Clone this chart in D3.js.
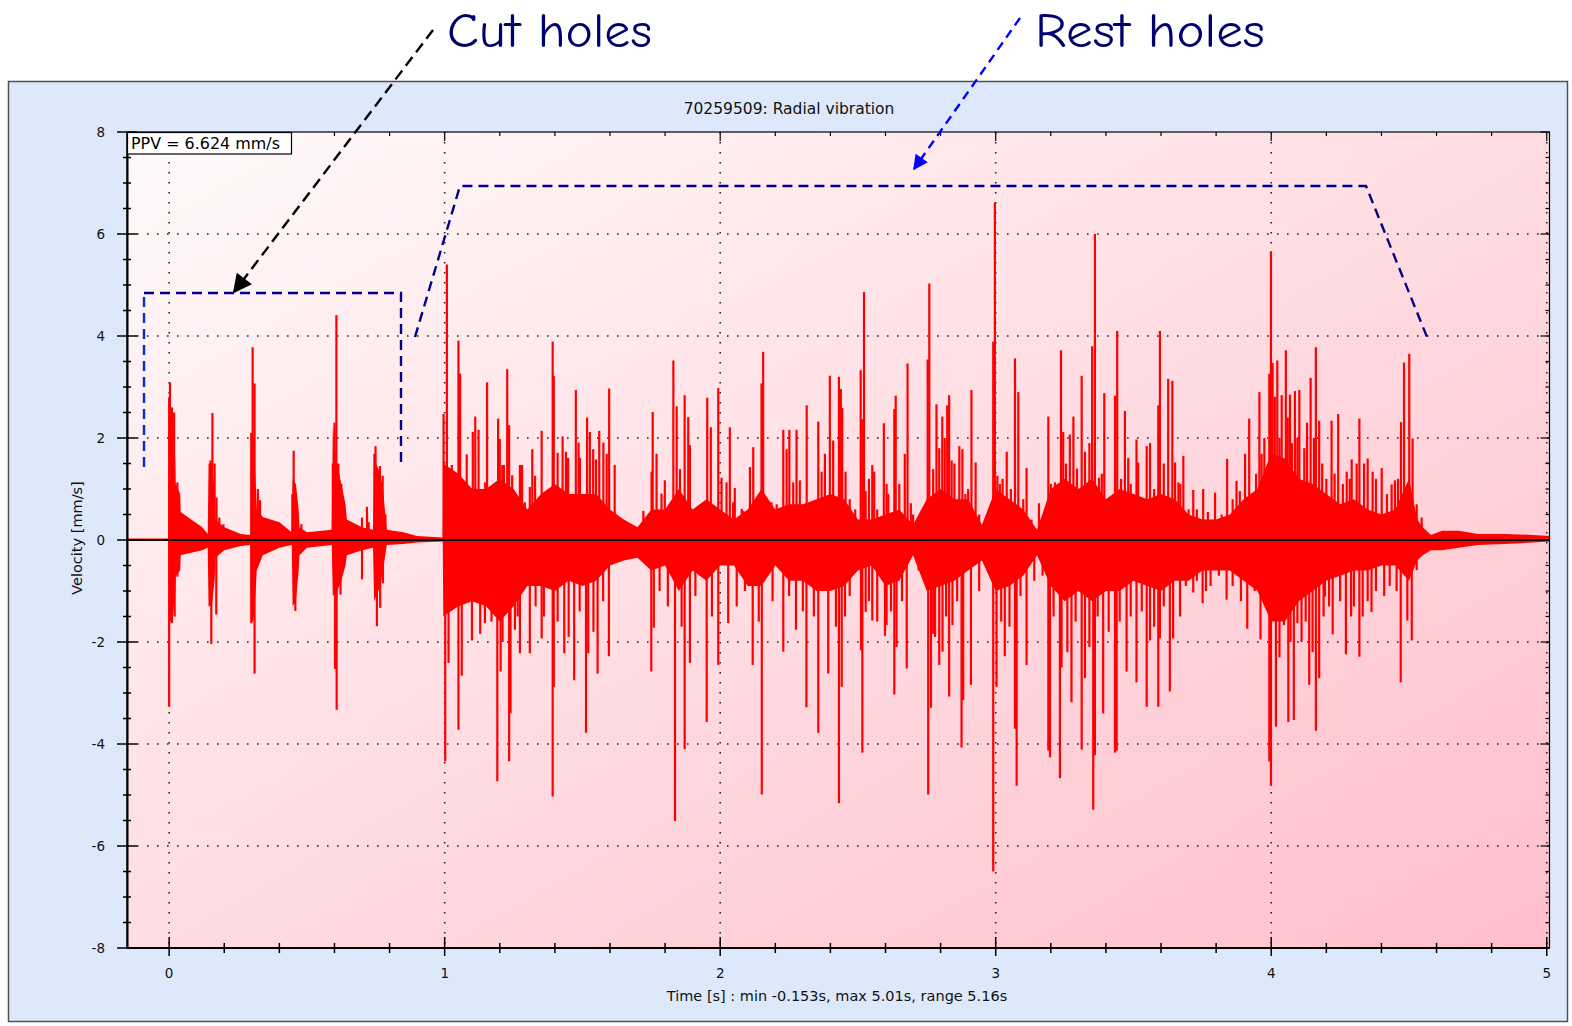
<!DOCTYPE html>
<html><head><meta charset="utf-8">
<script src="https://cdn.jsdelivr.net/npm/d3@7"></script>
<style>html,body{margin:0;padding:0;background:#fff;}svg{display:block;}</style>
</head><body>
<svg id="c" width="1572" height="1026"></svg>
<script>
// ---------- DATA ----------
const xTickLabels = ["0","1","2","3","4","5"];
const yTickLabels = ["-8","-6","-4","-2","0","2","4","6","8"];
const chartTitle = "70259509: Radial vibration";
const xTitle = "Time [s] : min -0.153s, max 5.01s, range 5.16s";
const yTitle = "Velocity [mm/s]";
const ppvText = "PPV = 6.624 mm/s";
const annotations = ["Cut holes", "Rest holes"];

// body envelope of the waveform (time s, upper mm/s, lower mm/s)
const envT  = [-0.153,-0.002,0.000,0.012,0.022,0.024,0.040,0.042,0.080,0.120,0.140,0.143,0.155,0.165,0.168,0.200,0.260,0.295,0.297,0.306,0.315,0.318,0.340,0.400,0.445,0.448,0.460,0.470,0.473,0.500,0.590,0.594,0.610,0.625,0.640,0.645,0.700,0.740,0.744,0.766,0.776,0.790,0.850,0.900,0.993,
  0.995,1.05,1.10,1.15,1.20,1.25,1.30,1.35,1.40,1.45,1.50,1.55,1.60,1.65,1.70,1.75,1.80,1.85,1.90,1.95,2.00,2.05,2.10,2.15,2.20,2.25,2.30,2.35,2.40,2.45,2.50,2.55,2.60,2.65,2.70,2.75,2.80,2.85,2.90,2.95,3.00,3.05,3.10,3.15,3.20,3.25,3.30,3.35,3.40,3.45,3.50,3.55,3.60,3.65,3.70,3.75,3.80,3.85,3.90,3.95,4.00,4.05,4.10,4.15,4.20,4.25,4.30,4.35,4.40,4.45,4.50,4.53,4.55,4.58,4.62,4.68,4.75,4.85,4.95,5.01];
const envHi = [0.03,0.03,2.5,2.4,1.6,1.1,0.9,0.55,0.4,0.25,0.12,1.5,1.5,0.9,0.4,0.25,0.12,0.1,2.1,2.0,1.0,0.6,0.45,0.35,0.15,1.2,1.1,0.6,0.25,0.15,0.2,2.2,1.5,1.1,0.7,0.4,0.25,0.2,1.6,1.3,1.0,0.2,0.15,0.08,0.05,
  1.5,1.3,1.0,1.0,1.2,1.0,0.6,0.9,1.1,0.9,0.9,0.9,0.6,0.4,0.25,0.6,0.6,1.0,0.6,0.8,0.6,0.4,0.6,1.0,0.6,0.7,0.7,0.8,0.9,0.8,0.4,0.4,0.5,0.6,0.3,0.8,1.0,0.8,0.8,0.3,1.0,0.8,0.6,0.2,1.0,1.2,1.0,1.2,0.8,1.0,0.9,0.8,0.9,0.8,0.5,0.4,0.4,0.5,0.8,1.0,1.7,1.6,1.2,1.1,0.9,0.7,0.8,0.6,0.5,0.6,1.2,0.4,0.25,0.1,0.18,0.18,0.12,0.12,0.1,0.08];
const envLo = [-0.005,-0.005,-1.6,-1.6,-1.0,-0.7,-0.6,-0.3,-0.25,-0.2,-0.15,-1.3,-1.3,-0.8,-0.35,-0.2,-0.12,-0.1,-1.6,-1.6,-0.9,-0.6,-0.3,-0.15,-0.1,-1.3,-1.2,-0.6,-0.3,-0.15,-0.1,-1.1,-1.0,-0.8,-0.5,-0.3,-0.2,-0.15,-1.2,-0.9,-0.6,-0.1,-0.08,-0.05,-0.03,
  -1.5,-1.3,-1.2,-1.3,-1.6,-1.3,-0.9,-0.9,-1.0,-0.8,-0.9,-0.8,-0.5,-0.4,-0.35,-0.6,-0.5,-1.0,-0.6,-0.8,-0.5,-0.5,-0.9,-0.9,-0.5,-0.8,-0.8,-1.0,-1.0,-0.9,-0.6,-0.5,-0.9,-0.8,-0.3,-1.0,-0.9,-0.8,-0.6,-0.4,-1.0,-0.9,-0.7,-0.3,-0.9,-1.2,-1.0,-1.2,-1.0,-1.0,-0.8,-0.9,-1.0,-0.8,-0.8,-0.6,-0.6,-0.6,-0.8,-1.0,-1.6,-1.6,-1.2,-1.0,-0.8,-0.7,-0.6,-0.6,-0.5,-0.5,-0.8,-0.4,-0.3,-0.2,-0.2,-0.15,-0.1,-0.08,-0.05,-0.03];

// positive peaks (time s, mm/s)
const posT = [0.000,0.003,0.010,0.018,0.030,0.035,0.150,0.157,0.165,0.172,0.182,0.197,0.298,0.303,0.310,0.322,0.330,0.447,0.452,0.460,0.480,0.594,0.600,0.607,0.614,0.625,0.700,0.718,0.724,0.745,0.749,0.755,0.765,0.775,0.785,
  0.996,1.008,1.026,1.050,1.056,1.080,1.102,1.111,1.123,1.134,1.147,1.154,1.176,1.194,1.200,1.209,1.215,1.227,1.234,1.245,1.261,1.273,1.281,1.291,1.309,1.318,1.328,1.352,1.370,1.392,1.396,1.410,1.428,1.440,1.448,1.476,1.486,1.491,1.517,1.527,1.539,1.549,1.561,1.576,1.588,1.597,1.617,1.721,1.751,1.755,1.769,1.787,1.799,1.830,1.842,1.854,1.871,1.884,1.890,1.926,1.953,1.966,1.993,2.005,2.023,2.035,2.047,2.053,2.078,2.084,2.108,2.120,2.132,2.150,2.156,2.186,2.205,2.229,2.241,2.251,2.265,2.277,2.289,2.314,2.332,2.356,2.368,2.380,2.398,2.410,2.431,
  2.438,2.443,2.455,2.470,2.490,2.510,2.516,2.522,2.528,2.540,2.552,2.559,2.570,2.594,2.604,2.610,2.632,2.637,2.650,2.670,2.680,2.692,2.700,2.720,2.753,2.759,2.773,2.785,2.795,2.806,2.815,2.824,2.831,2.840,2.850,2.868,2.879,2.890,2.900,2.912,2.927,2.940,2.960,2.991,2.997,3.006,3.015,3.025,3.040,3.055,3.070,3.082,3.100,3.112,3.130,3.157,3.165,3.191,3.200,3.215,3.225,3.237,3.245,3.255,3.269,3.282,3.295,3.312,3.324,3.340,3.350,3.360,3.375,3.385,3.394,3.410,3.433,3.441,3.455,3.469,3.481,3.490,3.500,3.511,3.517,3.530,3.548,3.560,3.575,3.590,3.596,3.610,3.626,3.641,3.651,3.663,3.670,3.681,3.700,3.717,
  3.730,3.753,3.770,3.796,3.820,3.840,3.860,3.874,3.886,3.905,3.920,3.929,3.945,3.957,3.965,3.975,3.993,3.999,4.005,4.013,4.022,4.030,4.038,4.053,4.060,4.068,4.075,4.086,4.095,4.102,4.120,4.130,4.143,4.155,4.162,4.174,4.185,4.200,4.219,4.230,4.243,4.260,4.274,4.285,4.292,4.310,4.320,4.337,4.350,4.368,4.380,4.401,4.420,4.437,4.449,4.460,4.471,4.482,4.501,4.513,4.528,4.546];
const posV = [2.8,3.09,2.6,2.5,1.13,0.9,1.56,2.49,1.5,0.83,0.44,0.31,2.1,3.78,3.07,1.0,0.78,0.9,1.75,0.7,0.31,1.5,2.3,4.41,1.5,1.1,0.44,0.65,0.35,1.69,1.84,1.0,1.45,1.26,0.5,
  2.47,5.40,1.47,3.91,3.26,1.68,2.12,2.42,2.16,0.91,1.13,3.09,0.95,2.38,1.98,1.47,1.47,3.35,2.25,1.27,0.74,1.47,1.47,0.74,1.04,1.78,1.26,2.14,0.83,3.89,3.22,1.71,2.03,1.73,1.61,2.94,1.91,1.61,2.40,2.12,1.78,1.58,2.14,1.91,1.69,2.97,1.47,0.57,1.34,2.51,1.69,0.91,1.17,3.52,2.62,1.39,2.84,2.41,1.86,0.57,2.79,2.21,2.98,1.22,1.13,2.21,0.74,1.02,0.61,0.57,1.43,1.82,0.74,3.07,3.69,0.74,0.70,2.16,1.78,2.16,1.13,2.16,1.17,2.64,0.70,2.32,1.34,1.69,3.22,1.95,3.20,
  2.96,2.59,1.34,0.8,0.6,3.33,2.37,4.86,0.96,1.2,1.47,1.34,0.6,2.29,1.10,0.9,2.57,2.83,1.1,1.69,3.46,0.72,0.5,0.3,3.54,5.03,1.39,2.66,1.8,2.42,2.0,2.64,2.84,1.56,1.5,1.84,1.78,0.9,1.0,2.94,1.52,0.5,0.3,3.89,6.62,1.26,1.1,1.2,1.73,1.0,3.56,2.90,0.8,1.41,0.4,0.72,0.4,2.42,1.1,1.13,1.1,3.72,2.12,1.5,2.07,2.42,1.4,3.22,1.73,1.9,3.80,6.00,1.22,1.3,2.88,0.5,2.83,4.10,1.2,2.53,1.61,1.1,0.9,1.97,1.52,0.8,1.84,1.90,1.0,2.64,4.10,1.5,3.16,3.12,1.52,1.13,1.1,1.65,0.6,0.98,
  0.6,1.00,0.55,0.93,0.5,1.59,0.8,1.16,0.96,1.69,2.38,0.91,1.3,2.90,1.69,2.0,3.26,5.66,3.47,2.81,3.52,2.0,2.84,3.72,2.4,2.85,1.9,2.92,2.0,2.94,1.8,2.3,3.18,2.0,3.78,2.34,1.5,1.2,2.34,1.3,2.47,1.1,1.34,1.2,1.58,1.5,2.38,1.50,1.6,1.34,1.2,1.41,0.9,1.09,1.17,1.2,2.31,3.48,3.65,1.99,0.70,0.44];

// negative peaks (time s, mm/s)
const negT = [0.000,0.010,0.020,0.030,0.153,0.171,0.298,0.310,0.458,0.602,0.608,0.622,0.700,0.754,0.766,0.776,
  1.002,1.014,1.032,1.050,1.062,1.099,1.129,1.146,1.170,1.191,1.203,1.210,1.234,1.239,1.255,1.265,1.273,1.309,1.330,1.352,1.360,1.392,1.396,1.410,1.434,1.450,1.470,1.490,1.513,1.521,1.540,1.555,1.575,1.596,1.750,1.759,1.780,1.810,1.836,1.860,1.871,1.890,1.910,1.951,1.970,1.993,2.029,2.060,2.090,2.118,2.140,2.151,2.190,2.229,2.250,2.275,2.300,2.313,2.340,2.356,2.392,2.420,2.431,
  2.441,2.453,2.470,2.511,2.516,2.528,2.540,2.552,2.570,2.598,2.604,2.620,2.632,2.640,2.660,2.677,2.720,2.755,2.765,2.773,2.780,2.795,2.807,2.820,2.831,2.843,2.860,2.876,2.882,2.910,2.940,2.991,3.003,3.020,3.033,3.050,3.070,3.076,3.090,3.112,3.140,3.170,3.191,3.197,3.210,3.233,3.239,3.260,3.275,3.290,3.312,3.324,3.340,3.354,3.360,3.370,3.390,3.410,3.433,3.439,3.450,3.475,3.490,3.511,3.530,3.548,3.560,3.575,3.590,3.596,3.610,3.632,3.644,3.669,3.690,
  3.717,3.730,3.751,3.763,3.780,3.810,3.838,3.860,3.890,3.913,3.940,3.961,3.993,3.999,4.017,4.026,4.030,4.046,4.062,4.070,4.082,4.095,4.110,4.125,4.138,4.150,4.162,4.174,4.190,4.195,4.210,4.223,4.250,4.271,4.290,4.300,4.320,4.332,4.350,4.364,4.380,4.410,4.430,4.455,4.470,4.494,4.510,4.528];
const negV = [-3.27,-1.63,-1.5,-0.72,-2.04,-1.46,-1.63,-2.62,-1.39,-2.53,-3.33,-1.07,-0.77,-1.69,-1.33,-0.85,
  -4.34,-2.41,-1.02,-3.72,-2.66,-1.97,-1.84,-1.63,-1.6,-4.73,-2.58,-2.0,-4.34,-3.40,-1.76,-1.5,-2.22,-2.22,-1.3,-1.93,-1.5,-5.03,-2.88,-1.6,-2.22,-1.9,-2.75,-1.4,-3.78,-2.22,-1.8,-2.62,-1.2,-2.28,-2.58,-1.72,-1.0,-1.3,-5.51,-1.7,-4.10,-2.41,-1.1,-3.57,-1.5,-2.45,-1.63,-1.3,-1.0,-2.45,-1.6,-4.99,-1.2,-2.19,-1.1,-1.76,-1.4,-3.28,-1.5,-3.78,-2.62,-1.7,-5.16,
  -2.88,-1.50,-1.1,-2.16,-4.17,-1.41,-1.2,-1.58,-1.6,-1.88,-1.67,-1.4,-3.03,-2.10,-1.2,-2.52,-0.6,-4.99,-3.29,-1.84,-1.9,-2.45,-2.19,-1.5,-3.07,-1.67,-1.2,-4.07,-3.14,-2.84,-1.0,-6.50,-2.88,-1.6,-2.28,-1.7,-3.70,-4.82,-1.1,-2.45,-0.8,-0.7,-4.13,-4.26,-1.5,-4.67,-2.50,-2.2,-3.18,-1.6,-4.11,-2.71,-2.1,-5.29,-4.22,-1.5,-3.40,-1.8,-4.17,-4.13,-1.6,-2.58,-1.5,-2.79,-1.4,-3.27,-1.97,-1.7,-3.27,-1.93,-1.3,-2.97,-1.93,-1.50,-0.9,
  -1.03,-0.8,-1.24,-1.00,-0.9,-0.7,-1.17,-0.9,-1.2,-1.74,-1.0,-1.95,-4.34,-4.82,-3.66,-1.37,-2.3,-1.67,-3.57,-2.0,-3.53,-1.63,-2.0,-1.6,-2.84,-2.2,-3.74,-2.71,-1.5,-1.11,-1.3,-1.85,-1.2,-2.24,-1.5,-1.3,-2.29,-1.50,-1.2,-1.41,-1.0,-1.1,-0.9,-1.0,-2.79,-1.58,-1.97,-0.59];

// ---------- DRAW ----------
const svg = d3.select("#c");
const FONT = "'DejaVu Sans', Verdana, sans-serif";
const x = d3.scaleLinear().domain([-0.153, 5.01]).range([127, 1549.5]);
const y = d3.scaleLinear().domain([-8, 8]).range([948, 132]);
const [X0, X1] = x.range(), [Y0, Y1] = [y(8), y(-8)];

const defs = svg.append("defs");
const g = defs.append("linearGradient").attr("id","bg").attr("x1",0).attr("y1",0).attr("x2",1).attr("y2",1);
g.append("stop").attr("offset","0%").attr("stop-color","#fffafa");
g.append("stop").attr("offset","100%").attr("stop-color","#ffbfcb");
defs.append("clipPath").attr("id","clip").append("rect").attr("x",X0).attr("y",Y0).attr("width",X1-X0).attr("height",Y1-Y0);
const mk = (id, col) => defs.append("marker").attr("id",id).attr("viewBox","0 0 10 10").attr("refX",9).attr("refY",5)
  .attr("markerWidth",9).attr("markerHeight",9).attr("markerUnits","userSpaceOnUse").attr("orient","auto")
  .append("path").attr("d","M0,0 L10,5 L0,10 z").attr("fill",col);
mk("ahBlack","#000"); mk("ahBlue","#0000ff");
defs.select("#ahBlack").attr("markerWidth",24).attr("markerHeight",19);
defs.select("#ahBlue").attr("markerWidth",18).attr("markerHeight",15);

// outer panel
svg.append("rect").attr("x",8.5).attr("y",81.5).attr("width",1559).attr("height",940)
  .attr("fill","#dde9fb").attr("stroke","#505050").attr("stroke-width",1.5);
// plot background
svg.append("rect").attr("x",X0).attr("y",Y0).attr("width",X1-X0).attr("height",Y1-Y0).attr("fill","url(#bg)");

// title
svg.append("text").attr("x",789).attr("y",114).attr("text-anchor","middle")
  .attr("font-family",FONT).attr("font-size",15.5).attr("fill","#111").text(chartTitle);

// grid (dotted)
const grid = svg.append("g").attr("stroke","#222").attr("stroke-width",1.6).attr("stroke-dasharray","1.6,8.4");
const xMajor = xTickLabels.map(Number), yMajor = yTickLabels.map(Number);
grid.selectAll(".gx").data(xMajor).join("line").attr("x1",d=>x(d)).attr("x2",d=>x(d)).attr("y1",Y0).attr("y2",Y1);
grid.selectAll(".gy").data(yMajor.filter(d=>d!==0 && Math.abs(d)!==8)).join("line")
  .attr("x1",X0).attr("x2",X1).attr("y1",d=>y(d)).attr("y2",d=>y(d));

// waveform
const wave = svg.append("g").attr("clip-path","url(#clip)");
const env = envT.map((t,i)=>({t, hi:envHi[i], lo:envLo[i]}));
wave.append("path").datum(env)
  .attr("d", d3.area().x(d=>x(d.t)).y0(d=>y(d.lo)).y1(d=>y(d.hi)))
  .attr("fill","#ff0000");
wave.selectAll(".ps").data(posT.map((t,i)=>({t,v:posV[i]}))).join("line")
  .attr("x1",d=>x(d.t)).attr("x2",d=>x(d.t)).attr("y1",y(0)).attr("y2",d=>y(d.v))
  .attr("stroke","#ff0000").attr("stroke-width",2.2);
wave.selectAll(".ns").data(negT.map((t,i)=>({t,v:negV[i]}))).join("line")
  .attr("x1",d=>x(d.t)).attr("x2",d=>x(d.t)).attr("y1",y(0)).attr("y2",d=>y(d.v))
  .attr("stroke","#ff0000").attr("stroke-width",2.2);
// zero line
svg.append("line").attr("x1",X0).attr("x2",X1).attr("y1",y(0)).attr("y2",y(0)).attr("stroke","#000").attr("stroke-width",2);

// frame & axes
const ax = svg.append("g").attr("stroke","#000");
ax.append("rect").attr("x",X0).attr("y",Y0).attr("width",X1-X0).attr("height",Y1-Y0).attr("fill","none").attr("stroke-width",1.2);
ax.append("line").attr("x1",X0+0.5).attr("x2",X0+0.5).attr("y1",Y0).attr("y2",Y1+1).attr("stroke-width",2);
ax.append("line").attr("x1",X0).attr("x2",X1).attr("y1",Y1).attr("y2",Y1).attr("stroke-width",2);
const xMinor = d3.range(0, 26).map(i=>i*0.2).filter(v=>Math.abs(v-Math.round(v))>1e-6);
const yMinor = d3.range(-16, 17).map(i=>i*0.5).filter(v=>Math.abs(v/2-Math.round(v/2))>1e-6);
ax.selectAll(".bM").data(xMajor).join("line").attr("x1",d=>x(d)).attr("x2",d=>x(d)).attr("y1",Y1-11).attr("y2",Y1+8).attr("stroke-width",1.5);
ax.selectAll(".bm").data(xMinor).join("line").attr("x1",d=>x(d)).attr("x2",d=>x(d)).attr("y1",Y1-5).attr("y2",Y1+5).attr("stroke-width",1.5);
ax.selectAll(".tM").data(xMajor).join("line").attr("x1",d=>x(d)).attr("x2",d=>x(d)).attr("y1",Y0).attr("y2",Y0+9).attr("stroke-width",1.2);
ax.selectAll(".tm").data(xMinor).join("line").attr("x1",d=>x(d)).attr("x2",d=>x(d)).attr("y1",Y0).attr("y2",Y0+4).attr("stroke-width",1.2);
ax.selectAll(".lM").data(yMajor).join("line").attr("x1",X0-10).attr("x2",X0+10).attr("y1",d=>y(d)).attr("y2",d=>y(d)).attr("stroke-width",1.5);
ax.selectAll(".lm").data(yMinor).join("line").attr("x1",X0-4).attr("x2",X0+4).attr("y1",d=>y(d)).attr("y2",d=>y(d)).attr("stroke-width",1.5);
ax.selectAll(".rM").data(yMajor).join("line").attr("x1",X1-9).attr("x2",X1).attr("y1",d=>y(d)).attr("y2",d=>y(d)).attr("stroke-width",1.2);
ax.selectAll(".rm").data(yMinor).join("line").attr("x1",X1-4).attr("x2",X1).attr("y1",d=>y(d)).attr("y2",d=>y(d)).attr("stroke-width",1.2);

// tick labels
svg.selectAll(".xl").data(xTickLabels).join("text").attr("x",d=>x(+d)).attr("y",978)
  .attr("text-anchor","middle").attr("font-family",FONT).attr("font-size",13.5).attr("fill","#111").text(d=>d);
svg.selectAll(".yl").data(yTickLabels).join("text").attr("x",105).attr("y",d=>y(+d)+5)
  .attr("text-anchor","end").attr("font-family",FONT).attr("font-size",13.5).attr("fill","#111").text(d=>d);
svg.append("text").attr("x",837).attr("y",1001).attr("text-anchor","middle")
  .attr("font-family",FONT).attr("font-size",14.5).attr("fill","#111").text(xTitle);
svg.append("text").attr("transform","translate(82,538) rotate(-90)").attr("text-anchor","middle")
  .attr("font-family",FONT).attr("font-size",14.5).attr("fill","#111").text(yTitle);

// PPV box
svg.append("rect").attr("x",X0+0.5).attr("y",Y0+0.5).attr("width",164).attr("height",21.5)
  .attr("fill","#fff").attr("stroke","#000").attr("stroke-width",1.2);
svg.append("text").attr("x",131).attr("y",149).attr("font-family",FONT).attr("font-size",15.6)
  .attr("textLength",149).attr("lengthAdjust","spacingAndGlyphs").attr("fill","#000").text(ppvText);

// annotations
const AF = "'Comic Sans MS','Comic Neue','DejaVu Sans',sans-serif";
svg.append("text").attr("x",447).attr("y",47).attr("font-family",AF).attr("font-size",48)
  .attr("textLength",205).attr("lengthAdjust","spacingAndGlyphs").attr("fill","#00006e").text(annotations[0]);
svg.append("text").attr("x",1035).attr("y",47).attr("font-family",AF).attr("font-size",48)
  .attr("textLength",230).attr("lengthAdjust","spacingAndGlyphs").attr("fill","#00006e").text(annotations[1]);

const ann = svg.append("g").attr("fill","none").attr("stroke-width",2.4);
ann.append("path").attr("d","M144,467 V293").attr("stroke","#0a2ad8").attr("stroke-dasharray","10,6");
ann.append("path").attr("d","M144,293 H401 V467").attr("stroke","#00008a").attr("stroke-dasharray","10,6");
ann.append("path").attr("d","M415,337 L460,186 H1366 L1427,337").attr("stroke","#00008a").attr("stroke-dasharray","10,6");
ann.append("line").attr("x1",433).attr("y1",30).attr("x2",234).attr("y2",292).attr("stroke","#000")
  .attr("stroke-dasharray","11,6").attr("marker-end","url(#ahBlack)");
ann.append("line").attr("x1",1020).attr("y1",18).attr("x2",914).attr("y2",169).attr("stroke","#0000ff")
  .attr("stroke-dasharray","9,6").attr("marker-end","url(#ahBlue)");
</script>
</body></html>
